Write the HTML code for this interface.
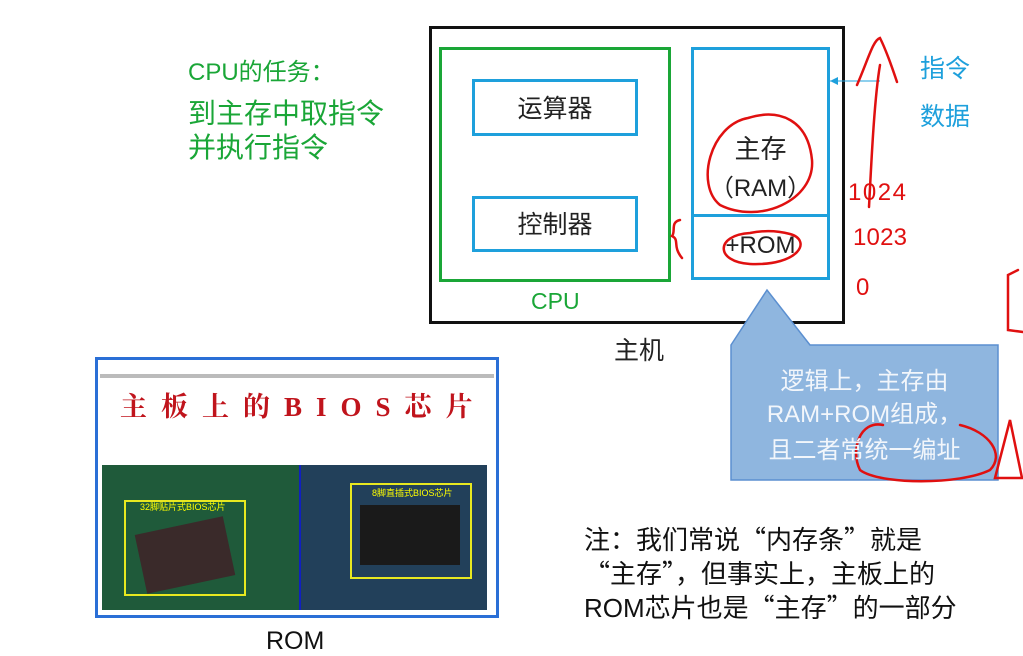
<!DOCTYPE html>
<html><head><meta charset="utf-8"><style>
body{margin:0;width:1023px;height:642px;background:#fff;position:relative;overflow:hidden;font-family:"Liberation Sans","Noto Sans CJK SC",sans-serif}
.a{position:absolute;white-space:nowrap}
.box{position:absolute;box-sizing:border-box}
.cj{font-family:"Noto Sans CJK SC",sans-serif}
</style></head><body>
<div class="a cj" style="left:188px;top:52px;font-size:24px;color:#1aa637"><span style="font-family:'Liberation Sans'">CPU</span>的任务：</div>
<div class="a cj" style="left:188px;top:95px;font-size:28px;color:#1aa637;line-height:34px">到主存中取指令<br>并执行指令</div>

<div class="box" style="left:429px;top:26px;width:416px;height:298px;border:3px solid #111"></div>
<div class="box" style="left:439px;top:47px;width:232px;height:235px;border:3px solid #1aa637"></div>
<div class="box" style="left:472px;top:79px;width:166px;height:57px;border:3px solid #1ea0dc"></div>
<div class="a cj" style="left:472px;top:89px;width:166px;text-align:center;font-size:25px;color:#222">运算器</div>
<div class="box" style="left:472px;top:196px;width:166px;height:56px;border:3px solid #1ea0dc"></div>
<div class="a cj" style="left:472px;top:205px;width:166px;text-align:center;font-size:25px;color:#222">控制器</div>
<div class="a" style="left:531px;top:288px;font-size:23px;color:#1aa637">CPU</div>
<div class="box" style="left:691px;top:47px;width:139px;height:233px;border:3px solid #1ea0dc"></div>
<div class="box" style="left:691px;top:214px;width:139px;height:3px;background:#1ea0dc"></div>
<div class="a cj" style="left:691px;top:129px;width:139px;text-align:center;font-size:26px;color:#222">主存</div>
<div class="a" style="left:691px;top:168px;width:139px;text-align:center;font-size:24px;color:#222">（RAM）</div>
<div class="a" style="left:691px;top:232px;width:139px;text-align:center;font-size:24px;color:#222">+ROM</div>
<div class="a cj" style="left:614px;top:331px;font-size:25px;color:#222">主机</div>

<div class="a cj" style="left:920px;top:43px;font-size:25px;color:#1ea0dc;line-height:48px">指令<br>数据</div>

<div class="a cj" style="left:584px;top:522px;font-size:26px;color:#111;line-height:34px">注：我们常说“内存条”就是<br>“主存”，但事实上，主板上的<br><span style="font-family:'Liberation Sans'">ROM</span>芯片也是“主存”的一部分</div>

<div class="box" style="left:95px;top:357px;width:404px;height:261px;border:3px solid #2a6fd6;background:#fff"></div>
<div class="box" style="left:100px;top:374px;width:394px;height:4px;background:#bbb"></div>
<div class="a" style="left:120px;top:385px;font-size:27px;color:#c0141c;letter-spacing:14px;font-family:'Liberation Serif','Noto Serif CJK SC',serif;font-weight:bold">主板上的BIOS芯片</div>
<div class="box" style="left:102px;top:465px;width:197px;height:145px;background:#1f5a3a"></div>
<div class="box" style="left:299px;top:465px;width:2px;height:145px;background:#1020c0"></div>
<div class="box" style="left:301px;top:465px;width:186px;height:145px;background:#22405a"></div>
<div class="box" style="left:124px;top:500px;width:122px;height:96px;border:2px solid #e8e820"></div>
<div class="box" style="left:140px;top:525px;width:90px;height:60px;background:#3a2a2a;transform:rotate(-12deg)"></div>
<div class="box" style="left:350px;top:483px;width:122px;height:96px;border:2px solid #e8e820"></div>
<div class="box" style="left:360px;top:505px;width:100px;height:60px;background:#1a1a1a"></div>
<div class="a" style="left:140px;top:500px;font-size:9px;color:#ff0">32脚贴片式BIOS芯片</div>
<div class="a" style="left:372px;top:486px;font-size:9px;color:#ff0">8脚直插式BIOS芯片</div>
<div class="a" style="left:266px;top:627px;font-size:25px;color:#111">ROM</div>

<svg class="a" style="left:0;top:0" width="1023" height="642">
<polygon points="731,345 767,290 810,345 998,345 998,480 731,480" fill="#8fb6df" stroke="#5b8fd0" stroke-width="1.5"/>
<line x1="880" y1="81" x2="830" y2="81" stroke="#1ea0dc" stroke-width="1"/>
<polygon points="830,81 838,77 838,85" fill="#1ea0dc"/>
<g fill="none" stroke="#e01010" stroke-width="2.5" stroke-linecap="round">
<path d="M748,118 C710,125 695,185 720,205 C760,225 815,200 812,160 C808,120 780,108 748,118 Z"/>
<path d="M750,233 C715,235 715,262 750,264 C800,266 812,240 790,234 C775,230 760,231 750,233Z"/>
<path d="M680,220 C670,222 676,232 672,236 C680,240 672,246 682,258"/>
<path d="M869,207 C871,170 874,100 880,65 M857,85 C868,60 873,40 880,38 C886,50 893,70 897,82"/>
<path d="M883,425 C860,420 850,450 860,470 C880,485 960,485 990,470 C1005,455 990,432 960,425"/>
<path d="M995,478 L1010,420 L1022,478 Z"/>
<path d="M1018,270 L1008,275 L1008,330 L1023,332"/>
</g>
<g fill="#e01010" font-family="Liberation Sans" font-size="24">
<text x="848" y="200" textLength="58">1024</text>
<text x="853" y="245" textLength="54">1023</text>
<text x="856" y="295">0</text>
</g>
</svg>
<div class="a cj" style="left:731px;top:362px;width:267px;text-align:center;font-size:24px;color:#f2f6fb;line-height:33px">逻辑上，主存由<br><span style="font-family:'Liberation Sans'">RAM+ROM</span>组成，<br>且二者常统一编址</div>
</body></html>
